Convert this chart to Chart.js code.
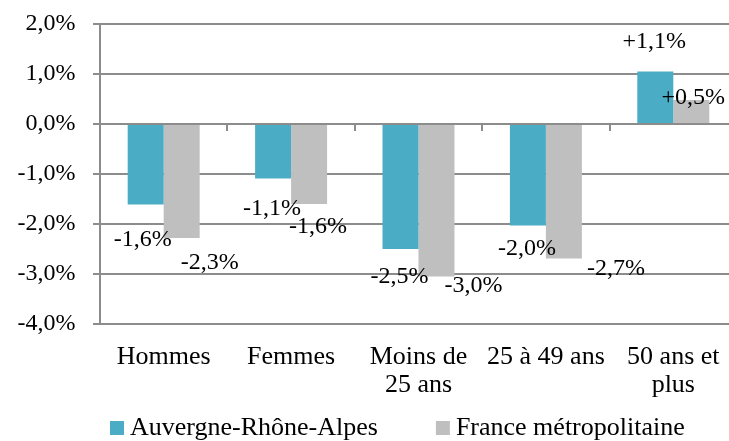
<!DOCTYPE html>
<html lang="fr">
<head>
<meta charset="utf-8">
<script src="https://cdn.jsdelivr.net/npm/chart.js@4.4.1/dist/chart.umd.min.js"></script>
<style>
  html, body { margin: 0; padding: 0; background: #fff; overflow: hidden; }
  #wrap { width: 745px; height: 441px; }
</style>
</head>
<body>
<div id="wrap"><canvas id="chartCanvas" width="745" height="441"></canvas></div>
<script>
const categories = ['Hommes', 'Femmes', ['Moins de', '25 ans'], '25 à 49 ans', ['50 ans et', 'plus']];
const seriesNames = ['Auvergne-Rhône-Alpes', 'France métropolitaine'];
const valuesAura = [-1.61, -1.09, -2.5, -2.03, 1.05];
const valuesFrance = [-2.28, -1.6, -3.05, -2.69, 0.48];
const labelsAura = ['-1,6%', '-1,1%', '-2,5%', '-2,0%', '+1,1%'];
const labelsFrance = ['-2,3%', '-1,6%', '-3,0%', '-2,7%', '+0,5%'];

const FONT = "'Liberation Serif', 'Times New Roman', serif";
const GRID = '#8c8c8c';

// nudges of the value labels from the end of their bar (Excel placed them by hand)
const labelShift = [
  [[-3, 35], [-1, 30], [-1, 28], [-1, 23], [-1, -30]],
  [[28, 25], [9, 23], [37, 9], [52, 10], [2, -2]],
];
const valueLabels = [labelsAura, labelsFrance];

const valueLabelPlugin = {
  id: 'valueLabels',
  afterDatasetsDraw(chart) {
    const ctx = chart.ctx;
    ctx.save();
    ctx.font = '24px ' + FONT;
    ctx.fillStyle = '#000';
    ctx.textAlign = 'center';
    ctx.textBaseline = 'middle';
    chart.data.datasets.forEach((ds, d) => {
      chart.getDatasetMeta(d).data.forEach((bar, i) => {
        const s = labelShift[d][i];
        ctx.fillText(valueLabels[d][i], bar.x + s[0], bar.y + s[1]);
      });
    });
    ctx.restore();
  },
};

// small tick marks under the zero line, between categories
const zeroTicksPlugin = {
  id: 'zeroTicks',
  afterDraw(chart) {
    const x = chart.scales.x;
    const y0 = chart.scales.y.getPixelForValue(0);
    const ctx = chart.ctx;
    ctx.save();
    ctx.strokeStyle = GRID;
    ctx.lineWidth = 2;
    for (let i = 0; i < categories.length - 1; i++) {
      const px = Math.round((x.getPixelForValue(i) + x.getPixelForValue(i + 1)) / 2);
      ctx.beginPath();
      ctx.moveTo(px, y0);
      ctx.lineTo(px, y0 + 7);
      ctx.stroke();
    }
    ctx.restore();
  },
};

// legend drawn by hand: Excel leaves a wide gap between the two entries
const legendPlugin = {
  id: 'wideLegend',
  afterDraw(chart) {
    const ctx = chart.ctx;
    ctx.save();
    ctx.font = '26px ' + FONT;
    ctx.textBaseline = 'middle';
    let x = chart.chartArea.left + 10;
    const y = chart.height - 13;
    chart.data.datasets.forEach((ds) => {
      ctx.fillStyle = ds.backgroundColor;
      ctx.fillRect(x, y - 7, 14, 14);
      ctx.fillStyle = '#000';
      ctx.fillText(ds.label, x + 20, y);
      x += 20 + ctx.measureText(ds.label).width + 58;
    });
    ctx.restore();
  },
};

const ctx = document.getElementById('chartCanvas').getContext('2d');
new Chart(ctx, {
  type: 'bar',
  data: {
    labels: categories,
    datasets: [
      {
        label: seriesNames[0],
        data: valuesAura,
        backgroundColor: '#4BACC6',
        categoryPercentage: 0.565,
        barPercentage: 1,
      },
      {
        label: seriesNames[1],
        data: valuesFrance,
        backgroundColor: '#BFBFBF',
        categoryPercentage: 0.565,
        barPercentage: 1,
      },
    ],
  },
  options: {
    responsive: false,
    animation: false,
    layout: { padding: { left: 0, right: 8, top: 0, bottom: 23 } },
    plugins: {
      legend: { display: false },
      tooltip: { enabled: false },
    },
    scales: {
      x: {
        grid: { display: false, drawTicks: false },
        border: { display: false },
        ticks: {
          font: { family: FONT, size: 26, lineHeight: 1.08 },
          color: '#000',
          maxRotation: 0,
          autoSkip: false,
          padding: 19,
        },
      },
      y: {
        min: -4,
        max: 2,
        grid: { display: true, drawOnChartArea: true, color: GRID, lineWidth: 2, tickLength: 7 },
        border: { display: true, color: GRID, width: 2 },
        ticks: {
          stepSize: 1,
          font: { family: FONT, size: 24, lineHeight: 0.55 },
          color: '#000',
          padding: 17.5,
          callback: (v) => v.toFixed(1).replace('.', ',') + '%',
        },
      },
    },
  },
  plugins: [valueLabelPlugin, zeroTicksPlugin, legendPlugin],
});
</script>
</body>
</html>
